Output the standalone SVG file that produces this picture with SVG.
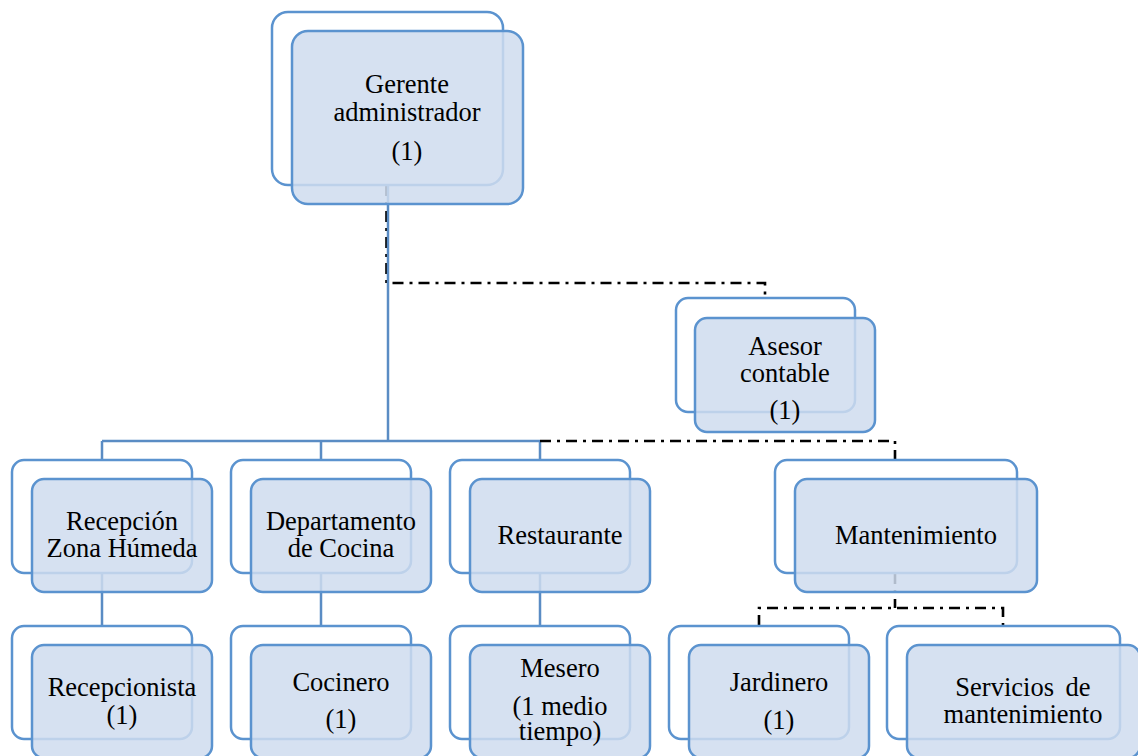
<svg xmlns="http://www.w3.org/2000/svg" width="1138" height="756" viewBox="0 0 1138 756">
<style>
.back{fill:#ffffff;stroke:#5b93cf;stroke-width:2.5}
.front{fill:#cfdcee;fill-opacity:0.85;stroke:#5b93cf;stroke-width:2.5}
.solid{fill:none;stroke:#5a8cc4;stroke-width:2.5}
.dd{fill:none;stroke:#000;stroke-width:2.6;stroke-dasharray:11 6 3 6}
.t{font-family:'Liberation Serif','DejaVu Serif',serif;font-size:26.5px;fill:#000;text-anchor:middle}
</style>
<rect width="1138" height="756" fill="#ffffff"/>
<g id="connectors">
<path class="dd" d="M386.5,185 V283 H765 V298"/>
<path class="solid" d="M388,185 V441"/>
<path class="solid" d="M102,441 H540 M102,441 V460 M321,441 V460 M540,441 V460"/>
<path class="dd" d="M540,441 H895 V460"/>
<path class="solid" d="M102,573 V626 M321,573 V626 M540,573 V626"/>
<path class="dd" d="M895,573 V608 M759,626 V608 H1003 V626"/>
</g>
<g id="gerente">
<rect class="back" x="272" y="12" width="231" height="173" rx="16"/>
<rect class="front" x="292" y="31" width="231" height="173" rx="16"/>
<text class="t" x="407" y="93">Gerente</text>
<text class="t" x="407" y="121">administrador</text>
<text class="t" x="407" y="160">(1)</text>
</g>
<g id="asesor">
<rect class="back" x="676" y="298" width="179" height="114" rx="12"/>
<rect class="front" x="695" y="318" width="180" height="114" rx="12"/>
<text class="t" x="785" y="355">Asesor</text>
<text class="t" x="785" y="382">contable</text>
<text class="t" x="785" y="419">(1)</text>
</g>
<g id="recepcion">
<rect class="back" x="12" y="460" width="180" height="113" rx="12"/>
<rect class="front" x="32" y="479" width="180" height="113" rx="12"/>
<text class="t" x="122" y="530">Recepción</text>
<text class="t" x="122" y="557">Zona Húmeda</text>
</g>
<g id="cocina">
<rect class="back" x="231" y="460" width="180" height="113" rx="12"/>
<rect class="front" x="251" y="479" width="180" height="113" rx="12"/>
<text class="t" x="341" y="530">Departamento</text>
<text class="t" x="341" y="557">de Cocina</text>
</g>
<g id="restaurante">
<rect class="back" x="450" y="460" width="180" height="113" rx="12"/>
<rect class="front" x="470" y="479" width="180" height="113" rx="12"/>
<text class="t" x="560" y="544">Restaurante</text>
</g>
<g id="mantenimiento">
<rect class="back" x="775" y="460" width="242" height="113" rx="12"/>
<rect class="front" x="795" y="479" width="242" height="113" rx="12"/>
<text class="t" x="916" y="544">Mantenimiento</text>
</g>
<g id="recepcionista">
<rect class="back" x="12" y="626" width="180" height="113" rx="12"/>
<rect class="front" x="32" y="645" width="180" height="113" rx="12"/>
<text class="t" x="122" y="696">Recepcionista</text>
<text class="t" x="122" y="724">(1)</text>
</g>
<g id="cocinero">
<rect class="back" x="231" y="626" width="180" height="113" rx="12"/>
<rect class="front" x="251" y="645" width="180" height="113" rx="12"/>
<text class="t" x="341" y="691">Cocinero</text>
<text class="t" x="341" y="728">(1)</text>
</g>
<g id="mesero">
<rect class="back" x="450" y="626" width="180" height="113" rx="12"/>
<rect class="front" x="470" y="645" width="180" height="113" rx="12"/>
<text class="t" x="560" y="677">Mesero</text>
<text class="t" x="560" y="715">(1 medio</text>
<text class="t" x="560" y="740">tiempo)</text>
</g>
<g id="jardinero">
<rect class="back" x="669" y="626" width="180" height="113" rx="12"/>
<rect class="front" x="689" y="645" width="180" height="113" rx="12"/>
<text class="t" x="779" y="691">Jardinero</text>
<text class="t" x="779" y="729">(1)</text>
</g>
<g id="servicios">
<rect class="back" x="887" y="626" width="233" height="113" rx="12"/>
<rect class="front" x="907" y="645" width="233" height="113" rx="12"/>
<text class="t" x="1023" y="696" word-spacing="5">Servicios de</text>
<text class="t" x="1023" y="723">mantenimiento</text>
</g>
</svg>
